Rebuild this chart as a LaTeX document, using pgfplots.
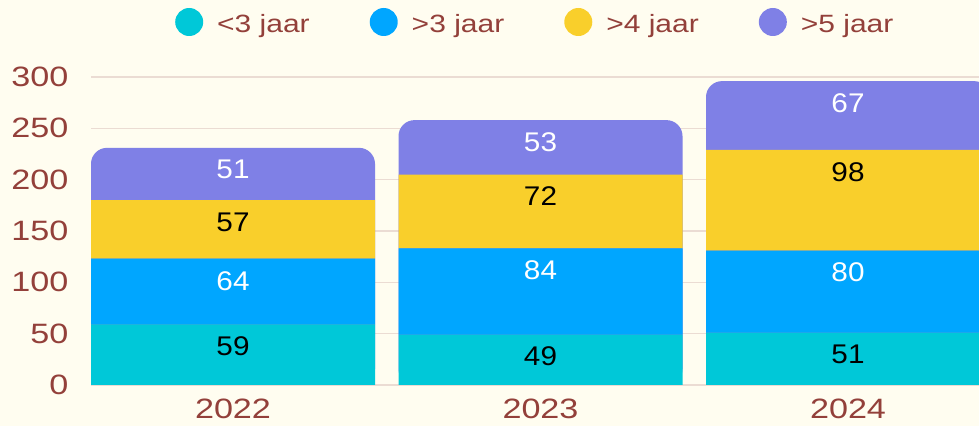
\documentclass[border=0pt]{standalone}
\usepackage{pgfplots}
\usepackage{pgfplotstable}
\pgfplotsset{compat=1.18}
\usepackage{fontspec}
\setmainfont{Liberation Sans}
\newfontfamily\tickfont[FakeStretch=1.22]{Liberation Sans}
\newfontfamily\lblfont[FakeStretch=1.1]{Liberation Sans}
\newfontfamily\legfont[FakeStretch=1.2]{Liberation Sans}

\definecolor{bgcream}{HTML}{FFFDF0}
\definecolor{gridc}{HTML}{EBDCD3}
\definecolor{brown}{HTML}{93403A}
\definecolor{cCyan}{HTML}{00C8D8}
\definecolor{cBlue}{HTML}{00A6FF}
\definecolor{cYellow}{HTML}{F9CF2B}
\definecolor{cPurple}{HTML}{7F80E6}

% a: <3 jaar, b: >3 jaar, c: >4 jaar, d: >5 jaar
\pgfplotstableread{
x a b c d
0 59 64 57 51
1 49 84 72 53
2 51 80 98 67
}\datatable

\pgfplotsset{
  base/.style={
    at={(91bp,41bp)}, anchor=south west,
    scale only axis, width=888bp, height=308bp,
    xmin=-0.4618, xmax=2.426, ymin=0, ymax=300,
    bar width=0.9236,
    axis line style={draw=none}, tick style={draw=none},
    /pgf/number format/assume math mode=true,
    clip=true,
  },
  % label a bit below the top of the bar (back axis)
  lbl/.style={nodes near coords, point meta=explicit,
    every node near coord/.append style={anchor=center, yshift=-22bp,
      font=\lblfont\fontsize{27bp}{27bp}\selectfont, text=#1}},
  % stacked: node sits in the middle of the segment, move it up to top-22bp
  slbl/.style 2 args={nodes near coords, point meta=explicit,
    visualization depends on={\thisrow{#2} \as \segh},
    every node near coord/.append style={anchor=center,
      yshift={\segh*0.51333bp-22bp},
      font=\lblfont\fontsize{27bp}{27bp}\selectfont, text=#1}},
}

\begin{document}
\begin{tikzpicture}
\useasboundingbox[fill=bgcream] (0,0) rectangle (979bp,426bp);

% back axis: grid, ticks and the rounded total bars (top segment shows)
\begin{axis}[base,
  ybar,
  ytick={0,50,...,300},
  ymajorgrids, major grid style={gridc, line width=1.2pt},
  xtick={0,1,2}, xticklabels={2022,2023,2024},
  ticklabel style={font=\tickfont\fontsize{28bp}{28bp}\selectfont, text=brown},
  yticklabel style={xshift=-19bp},
  xticklabel style={yshift=-6bp},
]
\addplot[fill=cPurple, draw=none, rounded corners=16bp, lbl=white]
  table[x=x, y expr=\thisrow{a}+\thisrow{b}+\thisrow{c}+\thisrow{d}, meta=d] {\datatable};
\end{axis}

% front axis: stacked lower segments
\begin{axis}[base,
  ybar stacked,
  xtick=\empty, ytick=\empty,
  legend columns=4,
  legend style={draw=none, fill=none, at={(axis description cs:0,1)},
    anchor=west, xshift=84bp, yshift=55bp, inner sep=0pt,
    font=\legfont\fontsize{25bp}{25bp}\selectfont, text=brown,
    /tikz/every odd column/.append style={column sep=12bp},
    /tikz/every even column/.append style={column sep=58bp}},
  legend image code/.code={\fill[#1] (14bp,2bp) circle (14bp);},
]
\addplot[fill=cCyan, draw=none, slbl={black}{a}] table[x=x, y=a, meta=a] {\datatable};
\addlegendentry{<3 jaar}
\addplot[fill=cBlue, draw=none, slbl={white}{b}] table[x=x, y=b, meta=b] {\datatable};
\addlegendentry{>3 jaar}
\addplot[fill=cYellow, draw=none, slbl={black}{c}] table[x=x, y=c, meta=c] {\datatable};
\addlegendentry{>4 jaar}
\addlegendimage{fill=cPurple, draw=none}
\addlegendentry{>5 jaar}
\end{axis}
\end{tikzpicture}
\end{document}
